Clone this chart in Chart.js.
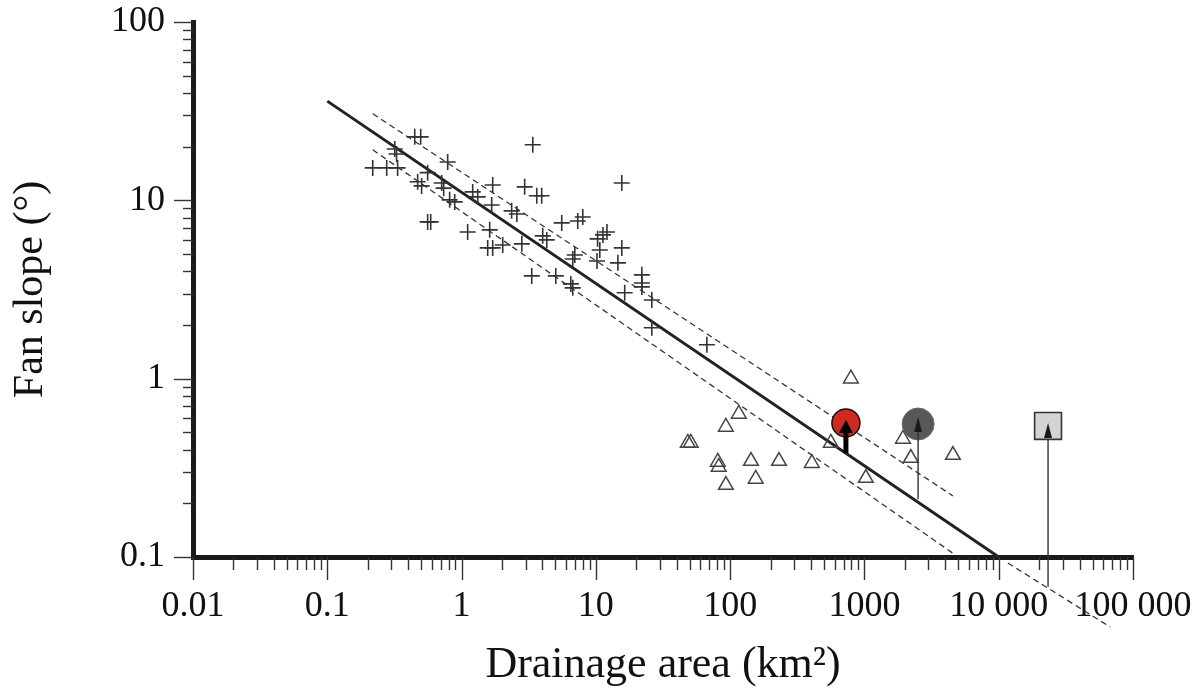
<!DOCTYPE html>
<html>
<head>
<meta charset="utf-8">
<script src="https://cdn.jsdelivr.net/npm/chart.js@4.4.1/dist/chart.umd.min.js"></script>
<style>
  body { margin: 0; background: #fff; }
</style>
</head>
<body>
<canvas id="myChart" width="1201" height="690"></canvas>
<script>
// debris-flow fans (crosses)
const fanArea = [0.218, 0.277, 0.334, 0.318, 0.328, 0.448, 0.496, 0.559, 0.471, 0.504,
    0.711, 0.736, 0.788, 0.815, 0.889, 0.559, 0.589, 1.11, 1.62, 1.565,
    1.705, 2.025, 1.21, 1.32, 1.705, 1.676, 2.95, 3.63, 3.95, 2.36,
    2.58, 2.81, 4.02, 4.31, 3.39, 5.57, 7.33, 7.99, 6.97, 6.73,
    3.33, 5.03, 6.51, 6.73, 10.3, 11.3, 12.1, 10.7, 10.2, 15.6,
    15.6, 14.6, 22.0, 22.0, 22.0, 16.4, 26.1, 26.1, 67.1];
const fanSlope = [15.2, 15.2, 15.2, 19.4, 18.2, 22.7, 22.7, 14.3, 12.7, 12.05,
    12.5, 11.7, 16.4, 10.06, 9.8, 7.57, 7.57, 6.65, 6.83, 5.41,
    5.41, 5.62, 11.15, 10.45, 12.2, 9.42, 11.9, 10.6, 10.6, 8.73,
    8.39, 5.7, 6.32, 6.0, 20.5, 7.47, 7.66, 8.07, 4.94, 4.69,
    3.77, 3.77, 3.4, 3.23, 6.08, 6.4, 6.65, 5.27, 4.57, 12.5,
    5.41, 4.46, 3.82, 3.44, 3.27, 3.03, 2.76, 1.93, 1.55];

// fluvial fans (triangles)
const riverArea = [793, 116, 92.9, 50.9, 48.4, 80.9, 82.2, 143, 231, 406,
    93, 155, 562, 1025, 1936, 2217, 4560];
const riverSlope = [1.0, 0.634, 0.536, 0.436, 0.436, 0.341, 0.32, 0.345, 0.345, 0.336,
    0.253, 0.274, 0.436, 0.277, 0.459, 0.359, 0.373];

// regression and confidence band
const fitArea = [0.1, 10000];
const fitSlope = [36, 0.1];
const upperArea = [0.218, 4560];
const upperSlope = [30.6, 0.22];
const lowerArea = [0.218, 4560];
const lowerSlope = [19.2, 0.105];
const tailArea = [11700, 67600];
const tailSlope = [0.0925, 0.0405];

// special sites: marker value and lower end of the arrow
const redArea = [728];
const redSlope = [0.565];
const redMin = [0.383];
const greyArea = [2510];
const greySlope = [0.557];
const greyMin = [0.211];
const boxArea = [23300];
const boxSlope = [0.543];
const boxMin = [0.068];

const xTicks = [0.01, 0.1, 1, 10, 100, 1000, 10000, 100000];
const xTickLabels = ['0.01', '0.1', '1', '10', '100', '1000', '10 000', '100 000'];
const yTicks = [0.1, 1, 10, 100];
const yTickLabels = ['0.1', '1', '10', '100'];

const FONT = '"Liberation Serif", "Times New Roman", serif';

function pts(xs, ys) {
    return xs.map((x, i) => ({ x: x, y: ys[i] }));
}

function logTicks(majors) {
    const out = [];
    for (let i = 0; i < majors.length; i++) {
        out.push({ value: majors[i] });
        if (i === majors.length - 1) break;
        for (let s = 2; s <= 9; s++) {
            out.push({ value: Number((majors[i] * s).toPrecision(6)) });
        }
    }
    return out;
}

function labelFor(list, labels) {
    return function (value) {
        const i = list.findIndex(v => Math.abs(v - value) / v < 1e-6);
        return i >= 0 ? labels[i] : '';
    };
}

function isMajor(list, value) {
    return list.some(v => Math.abs(v - value) / v < 1e-6);
}

// minor/major tick marks outside the axes
const tickMarks = {
    id: 'tickMarks',
    afterDraw(chart) {
        const ctx = chart.ctx;
        const xs = chart.scales.x, ys = chart.scales.y;
        ctx.save();
        ctx.strokeStyle = '#333';
        ctx.lineWidth = 1.4;
        xs.ticks.forEach(t => {
            const px = Math.round(xs.getPixelForValue(t.value)) + 0.5;
            const len = isMajor(xTicks, t.value) ? 23 : 13;
            ctx.beginPath();
            ctx.moveTo(px, ys.bottom);
            ctx.lineTo(px, ys.bottom + len);
            ctx.stroke();
        });
        ys.ticks.forEach(t => {
            const py = Math.round(ys.getPixelForValue(t.value)) + 0.5;
            const len = isMajor(yTicks, t.value) ? 19 : 10;
            ctx.beginPath();
            ctx.moveTo(xs.left, py);
            ctx.lineTo(xs.left - len, py);
            ctx.stroke();
        });
        ctx.restore();
    }
};

function head(ctx, x, tip, base, w) {
    ctx.beginPath();
    ctx.moveTo(x, tip);
    ctx.lineTo(x + w / 2, base);
    ctx.lineTo(x - w / 2, base);
    ctx.closePath();
    ctx.fill();
}

// arrows on the special sites
const arrows = {
    id: 'arrows',
    afterDatasetsDraw(chart) {
        const ctx = chart.ctx;
        const xs = chart.scales.x, ys = chart.scales.y;
        ctx.save();
        ctx.fillStyle = '#000';

        let cx = xs.getPixelForValue(redArea[0]);
        let cy = ys.getPixelForValue(redSlope[0]);
        const bottom = ys.getPixelForValue(redMin[0]);
        ctx.fillRect(cx - 2.5, cy + 9, 5, bottom - cy - 9);
        head(ctx, cx, cy - 3, cy + 10, 14);

        ctx.fillStyle = '#1a1a1a';
        cx = xs.getPixelForValue(greyArea[0]);
        cy = ys.getPixelForValue(greySlope[0]);
        head(ctx, cx, cy - 7, cy + 8, 8);

        cx = xs.getPixelForValue(boxArea[0]);
        cy = ys.getPixelForValue(boxSlope[0]);
        head(ctx, cx, cy - 3, cy + 12, 8);
        ctx.restore();
    }
};

const ctx = document.getElementById('myChart').getContext('2d');

const myChart = new Chart(ctx, {
    type: 'scatter',
    data: {
        datasets: [
            {
                data: pts(redArea, redSlope),
                pointStyle: 'circle',
                pointRadius: 14,
                backgroundColor: '#cf2a20',
                borderColor: '#111',
                borderWidth: 1.5
            },
            {
                data: pts(boxArea, boxSlope),
                pointStyle: 'rect',
                pointRadius: 19,
                backgroundColor: '#d4d4d7',
                borderColor: '#333',
                borderWidth: 1.6
            },
            {
                data: [{ x: boxArea[0], y: boxSlope[0] }, { x: boxArea[0], y: boxMin[0] }],
                showLine: true,
                pointRadius: 0,
                borderColor: '#333',
                borderWidth: 1.4,
                clip: false
            },
            {
                data: [{ x: greyArea[0], y: greySlope[0] }, { x: greyArea[0], y: greyMin[0] }],
                showLine: true,
                pointRadius: 0,
                borderColor: '#333',
                borderWidth: 1.4
            },
            {
                data: pts(greyArea, greySlope),
                pointStyle: 'circle',
                pointRadius: 16,
                backgroundColor: '#585858',
                borderColor: '#6a6a6a',
                borderWidth: 1
            },
            {
                data: pts(fanArea, fanSlope),
                pointStyle: 'cross',
                pointRadius: 8,
                borderColor: '#333',
                borderWidth: 1.6
            },
            {
                data: pts(riverArea, riverSlope),
                pointStyle: 'triangle',
                pointRadius: 8.5,
                backgroundColor: 'rgba(255,255,255,0)',
                borderColor: '#444',
                borderWidth: 1.5
            },
            {
                data: pts(fitArea, fitSlope),
                showLine: true,
                pointRadius: 0,
                borderColor: '#222',
                borderWidth: 3
            },
            {
                data: pts(upperArea, upperSlope),
                showLine: true,
                pointRadius: 0,
                borderColor: '#333',
                borderWidth: 1.3,
                borderDash: [6, 4]
            },
            {
                data: pts(lowerArea, lowerSlope),
                showLine: true,
                pointRadius: 0,
                borderColor: '#333',
                borderWidth: 1.3,
                borderDash: [6, 4]
            },
            {
                data: pts(tailArea, tailSlope),
                showLine: true,
                pointRadius: 0,
                borderColor: '#333',
                borderWidth: 1.3,
                borderDash: [6, 4],
                clip: false
            }
        ]
    },
    options: {
        responsive: false,
        animation: false,
        layout: { padding: { top: 22, right: 68, left: 0, bottom: 0 } },
        plugins: {
            legend: { display: false },
            tooltip: { enabled: false }
        },
        scales: {
            x: {
                type: 'logarithmic',
                min: 0.01,
                max: 100000,
                afterBuildTicks: scale => { scale.ticks = logTicks(xTicks); },
                afterFit: scale => {
                    scale.height = 133;
                    scale.paddingLeft = 0;
                    scale.paddingRight = 0;
                },
                grid: { display: false, drawTicks: true, tickLength: 22 },
                border: { display: true, width: 5, color: '#1a1a1a' },
                ticks: {
                    autoSkip: false,
                    maxRotation: 0,
                    padding: 6,
                    color: '#111',
                    font: { family: FONT, size: 36 },
                    callback: labelFor(xTicks, xTickLabels)
                },
                title: {
                    display: true,
                    text: 'Drainage area (km²)',
                    color: '#111',
                    font: { family: FONT, size: 44, lineHeight: 1 },
                    padding: { top: 0, bottom: 3 }
                }
            },
            y: {
                type: 'logarithmic',
                min: 0.1,
                max: 100,
                afterBuildTicks: scale => { scale.ticks = logTicks(yTicks); },
                afterFit: scale => {
                    scale.width = 193;
                    scale.paddingTop = 0;
                    scale.paddingBottom = 0;
                },
                grid: { display: false, drawTicks: true, tickLength: 19 },
                border: { display: true, width: 5, color: '#1a1a1a' },
                ticks: {
                    autoSkip: false,
                    padding: 9,
                    color: '#111',
                    font: { family: FONT, size: 36 },
                    callback: labelFor(yTicks, yTickLabels)
                },
                title: {
                    display: true,
                    text: 'Fan slope (°)',
                    color: '#111',
                    font: { family: FONT, size: 42, lineHeight: 1 },
                    padding: { top: 10, bottom: 0 }
                }
            }
        }
    },
    plugins: [tickMarks, arrows]
});
</script>
</body>
</html>
